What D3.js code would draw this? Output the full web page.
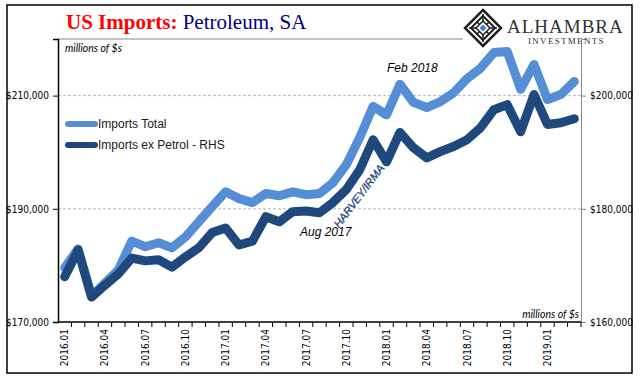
<!DOCTYPE html>
<html>
<head>
<meta charset="utf-8">
<script src="https://cdn.jsdelivr.net/npm/d3@7"></script>
<style>
  body { margin: 0; background: #fff; }
</style>
</head>
<body>
<div id="chart"></div>
<script>
var months = [
  '2016.01','2016.02','2016.03','2016.04','2016.05','2016.06','2016.07','2016.08','2016.09','2016.10','2016.11','2016.12',
  '2017.01','2017.02','2017.03','2017.04','2017.05','2017.06','2017.07','2017.08','2017.09','2017.10','2017.11','2017.12',
  '2018.01','2018.02','2018.03','2018.04','2018.05','2018.06','2018.07','2018.08','2018.09','2018.10','2018.11','2018.12',
  '2019.01','2019.02','2019.03'
];

// millions of $, left axis
var importsTotal = [
  179600, 182900, 174600, 176900, 179200, 184300, 183300, 184000, 183100, 185000, 187700, 190400,
  193000, 191800, 191100, 192700, 192300, 193000, 192500, 192700, 194600, 197800, 202600, 208100,
  206600, 212000, 208800, 207900, 208900, 210500, 213000, 214800, 217600, 217800, 211100, 215500,
  209300, 210200, 212500
];

// millions of $, right axis
var importsExPetrol = [
  168000, 172700, 164400, 166500, 168500, 171300, 170800, 171000, 169700, 171500, 173100, 175800,
  176600, 173600, 174300, 178600, 177700, 179500, 179600, 179300, 181100, 183400, 186900, 192200,
  188300, 193500, 190800, 189000, 190100, 191000, 192200, 194300, 197500, 198400, 193600, 200200,
  194900, 195200, 195900
];

var leftTicks = [170000, 190000, 210000];
var rightTicks = [160000, 180000, 200000];
var seriesNames = ['Imports Total', 'Imports ex Petrol - RHS'];

var W = 641, H = 381;
var plot = { left: 58, right: 581, top: 39, bottom: 322 };
var lightBlue = '#558ed5', darkBlue = '#1f497d';
var tickFont = '"DejaVu Sans Condensed", "Liberation Sans", sans-serif';

var svg = d3.select('#chart').append('svg')
  .attr('width', W)
  .attr('height', H)
  .attr('font-family', '"Liberation Sans", Arial, sans-serif');

// outer frame
svg.append('rect')
  .attr('x', 7).attr('y', 5)
  .attr('width', 625).attr('height', 368)
  .attr('fill', 'none')
  .attr('stroke', '#000')
  .attr('stroke-width', 1.5);

var x = d3.scaleBand().domain(months).range([plot.left, plot.right]).padding(0);
var yL = d3.scaleLinear().domain([170000, 220000]).range([plot.bottom, plot.top]);
var yR = d3.scaleLinear().domain([160000, 210000]).range([plot.bottom, plot.top]);

// gridlines
svg.append('g').selectAll('line')
  .data(leftTicks.slice(1))
  .join('line')
  .attr('x1', plot.left).attr('x2', plot.right)
  .attr('y1', function(d) { return yL(d); })
  .attr('y2', function(d) { return yL(d); })
  .attr('stroke', '#b8b8b8')
  .attr('stroke-dasharray', '3,2');

// top border line (stops at logo)
svg.append('line')
  .attr('x1', plot.left).attr('x2', 463)
  .attr('y1', plot.top).attr('y2', plot.top)
  .attr('stroke', '#888');

// right axis
var rightAxis = svg.append('g')
  .attr('transform', 'translate(' + plot.right + ',0)')
  .call(d3.axisRight(yR).tickValues(rightTicks).tickSize(5).tickPadding(4).tickFormat(d3.format('$,')));
rightAxis.select('.domain').attr('stroke', '#888');
rightAxis.selectAll('.tick line').attr('stroke', '#888');
rightAxis.selectAll('text').attr('font-size', 10).attr('fill', '#000').attr('font-family', tickFont);

// left axis
var leftAxis = svg.append('g')
  .attr('transform', 'translate(' + plot.left + ',0)')
  .call(d3.axisLeft(yL).tickValues(leftTicks).tickSize(5).tickPadding(4).tickFormat(d3.format('$,')));
leftAxis.select('.domain').attr('stroke', '#000').attr('stroke-width', 1.5);
leftAxis.selectAll('text').attr('font-size', 10).attr('fill', '#000').attr('font-family', tickFont);

// bottom axis: ticks at month boundaries, labels every quarter
var bottom = svg.append('g')
  .attr('transform', 'translate(0,' + plot.bottom + ')');
bottom.append('line')
  .attr('x1', plot.left).attr('x2', plot.right)
  .attr('stroke', '#000').attr('stroke-width', 1.5);
bottom.selectAll('line.tk')
  .data(months.slice(1).concat(['end']))
  .join('line')
  .attr('class', 'tk')
  .attr('x1', function(d) { return d === 'end' ? plot.right : x(d); })
  .attr('x2', function(d) { return d === 'end' ? plot.right : x(d); })
  .attr('y1', 0).attr('y2', 5)
  .attr('stroke', '#000');
bottom.selectAll('text')
  .data(months.filter(function(d, i) { return i % 3 === 0; }))
  .join('text')
  .attr('transform', function(d) {
    return 'translate(' + (x(d) + x.bandwidth() / 2) + ',7)rotate(-90)';
  })
  .attr('dy', '0.35em')
  .attr('text-anchor', 'end')
  .attr('font-size', 10)
  .attr('font-family', tickFont)
  .attr('fill', '#000')
  .text(function(d) { return d; });

// lines
function lineFor(scale) {
  return d3.line()
    .x(function(d, i) { return x(months[i]) + x.bandwidth() / 2; })
    .y(function(d) { return scale(d); });
}
svg.append('path')
  .datum(importsTotal)
  .attr('d', lineFor(yL))
  .attr('fill', 'none')
  .attr('stroke', lightBlue)
  .attr('stroke-width', 9)
  .attr('stroke-linejoin', 'round')
  .attr('stroke-linecap', 'round');
svg.append('path')
  .datum(importsExPetrol)
  .attr('d', lineFor(yR))
  .attr('fill', 'none')
  .attr('stroke', darkBlue)
  .attr('stroke-width', 9)
  .attr('stroke-linejoin', 'round')
  .attr('stroke-linecap', 'round');

// legend
var legend = svg.append('g').selectAll('g')
  .data(seriesNames)
  .join('g')
  .attr('transform', function(d, i) { return 'translate(68,' + (124 + i * 21) + ')'; });
legend.append('line')
  .attr('x1', 0).attr('x2', 27)
  .attr('stroke', function(d, i) { return i ? darkBlue : lightBlue; })
  .attr('stroke-width', 6)
  .attr('stroke-linecap', 'round');
legend.append('text')
  .attr('x', 30).attr('dy', '0.35em')
  .attr('font-size', 12)
  .attr('fill', '#1a1a1a')
  .text(function(d) { return d; });

// units notes
svg.append('text')
  .attr('x', 65).attr('y', 52)
  .attr('font-family', 'Lato, sans-serif')
  .attr('font-style', 'italic')
  .attr('font-size', 10.5)
  .text('millions of $s');
svg.append('text')
  .attr('x', 579).attr('y', 318)
  .attr('text-anchor', 'end')
  .attr('font-family', 'Lato, sans-serif')
  .attr('font-style', 'italic')
  .attr('font-size', 10.5)
  .text('millions of $s');

// annotations
svg.append('text')
  .attr('x', 387).attr('y', 72)
  .attr('font-style', 'italic')
  .attr('font-size', 12)
  .text('Feb 2018');
svg.append('text')
  .attr('x', 300).attr('y', 236)
  .attr('font-style', 'italic')
  .attr('font-size', 12)
  .text('Aug 2017');
svg.append('text')
  .attr('transform', 'translate(359,196)rotate(-53)')
  .attr('text-anchor', 'middle')
  .attr('dy', '0.35em')
  .attr('font-style', 'italic')
  .attr('font-size', 11)
  .attr('fill', darkBlue)
  .attr('stroke', darkBlue)
  .attr('stroke-width', 0.3)
  .text('HARVEY/IRMA');

// title
var title = svg.append('text')
  .attr('x', 66).attr('y', 29)
  .attr('font-family', 'Georgia, "Liberation Serif", serif')
  .attr('font-size', 21);
title.append('tspan').attr('fill', '#ff0000').attr('font-weight', 'bold').text('US Imports:');
title.append('tspan').attr('fill', '#000080').text(' Petroleum, SA');

// logo
var logo = svg.append('g').attr('transform', 'translate(483,28)');
var s = 18;
logo.append('path')
  .attr('d', 'M0,' + (-s) + 'L' + s + ',0L0,' + s + 'L' + (-s) + ',0Z')
  .attr('fill', '#fff').attr('stroke', '#222').attr('stroke-width', 2.5);
logo.append('path')
  .attr('d', 'M0,-12L12,0L0,12L-12,0Z')
  .attr('fill', 'none').attr('stroke', '#222').attr('stroke-width', 2);
logo.append('path')
  .attr('d', 'M-6,-6L6,6M6,-6L-6,6M0,-14L0,14M-14,0L14,0')
  .attr('stroke', '#222').attr('stroke-width', 1.5);
logo.append('path')
  .attr('d', 'M0,-7L7,0L0,7L-7,0Z')
  .attr('fill', '#fff').attr('stroke', '#222').attr('stroke-width', 1.5);
logo.append('path')
  .attr('d', 'M0,-3.5L3.5,0L0,3.5L-3.5,0Z')
  .attr('fill', '#3b7dd8');
svg.append('text')
  .attr('x', 507).attr('y', 33)
  .attr('font-family', '"Liberation Serif", serif')
  .attr('font-size', 19)
  .attr('letter-spacing', 1)
  .attr('fill', '#333')
  .text('ALHAMBRA');
svg.append('text')
  .attr('x', 528).attr('y', 44)
  .attr('font-family', '"Liberation Serif", serif')
  .attr('font-size', 9)
  .attr('letter-spacing', 1.3)
  .attr('fill', '#333')
  .text('INVESTMENTS');
</script>
</body>
</html>
